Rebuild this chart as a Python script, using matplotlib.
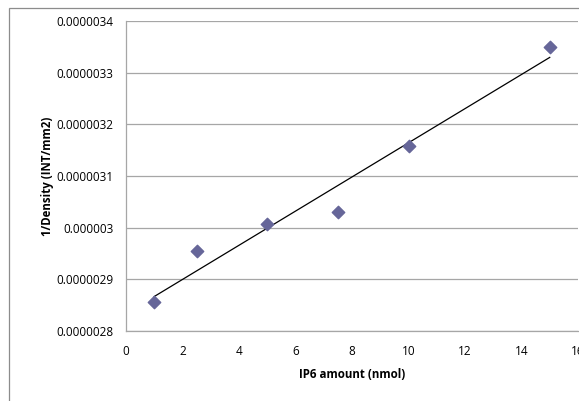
import numpy as np
import matplotlib
matplotlib.use('Agg')
import matplotlib.pyplot as plt
from matplotlib.patches import Rectangle
from matplotlib.ticker import FuncFormatter

# IP6 amount (nmol) vs 1/Density (INT/mm2)
ip6_amount = [1, 2.5, 5, 7.5, 10, 15]
inv_density = [2.8555e-6, 2.955e-6, 3.007e-6, 3.031e-6, 3.159e-6, 3.350e-6]

x_ticks = [0, 2, 4, 6, 8, 10, 12, 14, 16]
y_ticks = [2.8e-6, 2.9e-6, 3.0e-6, 3.1e-6, 3.2e-6, 3.3e-6, 3.4e-6]

plt.rcParams['font.family'] = ['Open Sans', 'DejaVu Sans']

fig = plt.figure(figsize=(5.79, 4.01), dpi=100)
ax = fig.add_axes([126 / 579, 1 - 331 / 401, 452 / 579, 310 / 401])

# outer chart frame (runs off the right and bottom edges)
fig.patches.append(Rectangle((9 / 579, -0.1), 1.2, 1 - 8 / 401 + 0.1,
                             transform=fig.transFigure, fill=False,
                             edgecolor='#8c8c8c', lw=0.9, clip_on=False))

ax.scatter(ip6_amount, inv_density, marker='D', s=40, color='#666699',
           edgecolors='#666699', zorder=3)

# linear trendline
slope, intercept = np.polyfit(ip6_amount, inv_density, 1)
xs = np.array([min(ip6_amount), max(ip6_amount)])
ax.plot(xs, slope * xs + intercept, color='black', lw=0.9, zorder=2)

ax.set_xlim(0, 16)
ax.set_ylim(2.8e-6, 3.4e-6)
ax.set_xticks(x_ticks)
ax.set_yticks(y_ticks)


def fmt(v, pos):
    s = '%.7f' % v
    return s.rstrip('0').rstrip('.')


ax.yaxis.set_major_formatter(FuncFormatter(fmt))
ax.grid(axis='y', color='#a6a6a6', lw=0.9)
ax.set_axisbelow(True)
for side in ['top', 'right']:
    ax.spines[side].set_visible(False)
for side in ['left', 'bottom']:
    ax.spines[side].set_color('#a6a6a6')
    ax.spines[side].set_linewidth(0.9)
ax.tick_params(length=0, labelsize=8.5, pad=9)
ax.tick_params(axis='x', pad=10)

ax.set_xlabel('IP6 amount (nmol)', fontsize=8.3, fontweight='bold', labelpad=7)
ax.set_ylabel('1/Density (INT/mm2)', fontsize=8.3, fontweight='bold', labelpad=2)

fig.savefig('out.png', dpi=100)
